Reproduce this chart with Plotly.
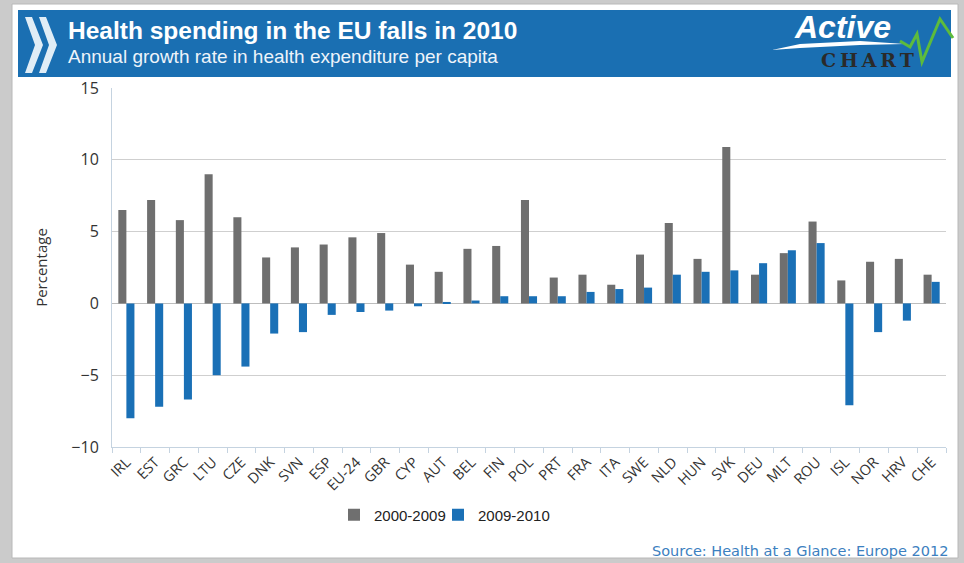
import plotly.graph_objects as go

categories = ["IRL", "EST", "GRC", "LTU", "CZE", "DNK", "SVN", "ESP", "EU-24", "GBR",
              "CYP", "AUT", "BEL", "FIN", "POL", "PRT", "FRA", "ITA", "SWE", "NLD",
              "HUN", "SVK", "DEU", "MLT", "ROU", "ISL", "NOR", "HRV", "CHE"]
growth_2000_2009 = [6.5, 7.2, 5.8, 9.0, 6.0, 3.2, 3.9, 4.1, 4.6, 4.9,
                    2.7, 2.2, 3.8, 4.0, 7.2, 1.8, 2.0, 1.3, 3.4, 5.6,
                    3.1, 10.9, 2.0, 3.5, 5.7, 1.6, 2.9, 3.1, 2.0]
growth_2009_2010 = [-8.0, -7.2, -6.7, -5.0, -4.4, -2.1, -2.0, -0.8, -0.6, -0.5,
                    -0.2, 0.1, 0.2, 0.5, 0.5, 0.5, 0.8, 1.0, 1.1, 2.0,
                    2.2, 2.3, 2.8, 3.7, 4.2, -7.1, -2.0, -1.2, 1.5]
series_names = ["2000-2009", "2009-2010"]
y_ticks = [-10, -5, 0, 5, 10, 15]

GRAY = "#6f6f6f"
BLUE = "#1a70b6"
HEADER = "#1a6fb2"

# plot area in pixels
L, R, T, B = 112, 946, 88, 447
W, H = 964, 563


def px(x):
    return (x - L) / (R - L)


def py(y):
    return (B - y) / (B - T)


fig = go.Figure()
fig.add_trace(go.Bar(x=categories, y=growth_2000_2009, name=series_names[0],
                     marker=dict(color=GRAY, line=dict(width=0)), legend="legend"))
fig.add_trace(go.Bar(x=categories, y=growth_2009_2010, name=series_names[1],
                     marker=dict(color=BLUE, line=dict(width=0)), legend="legend2"))

shapes = []
# white card
shapes.append(dict(type="rect", xref="paper", yref="paper", layer="below",
                   x0=px(12), x1=px(958), y0=py(558), y1=py(4),
                   fillcolor="white", line=dict(color="#b8b8b8", width=1)))
# header band
shapes.append(dict(type="rect", xref="paper", yref="paper", layer="below",
                   x0=px(18), x1=px(951), y0=py(77), y1=py(10),
                   fillcolor=HEADER, line=dict(width=0)))


def poly(pts):
    return "M" + " L".join(f"{px(a):.5f},{py(b):.5f}" for a, b in pts) + " Z"


# chevrons
for off in (0, 14):
    pts = [(25 + off, 17), (32 + off, 17), (43 + off, 45), (32 + off, 73), (25 + off, 73), (35 + off, 45)]
    shapes.append(dict(type="path", xref="paper", yref="paper", path=poly(pts),
                       fillcolor="rgba(235,243,250,0.95)", line=dict(width=0), layer="above"))
# white swoosh under "Active"
shapes.append(dict(type="path", xref="paper", yref="paper",
                   path=poly([(772, 50), (800, 44), (860, 41), (905, 44), (860, 45), (800, 48)]),
                   fillcolor="white", line=dict(width=0), layer="above"))
# green zigzag of logo
zig = [(900, 41), (910, 47), (917, 34), (922, 62), (940, 19), (953, 38)]
zpath = "M" + " L".join(f"{px(a):.5f},{py(b):.5f}" for a, b in zig)
shapes.append(dict(type="path", xref="paper", yref="paper", path=zpath,
                   line=dict(color="#5dbb3c", width=3), layer="above"))

annotations = [
    dict(text="<b>Health spending in the EU falls in 2010</b>", x=px(66), y=py(30),
         xref="paper", yref="paper", xanchor="left", yanchor="middle", showarrow=False,
         font=dict(family="Liberation Sans", size=24.5, color="white")),
    dict(text="Annual growth rate in health expenditure per capita", x=px(66), y=py(57),
         xref="paper", yref="paper", xanchor="left", yanchor="middle", showarrow=False,
         font=dict(family="Liberation Sans", size=19, color="#eef4fa")),
    dict(text="<b><i>Active</i></b>", x=px(842), y=py(27),
         xref="paper", yref="paper", xanchor="center", yanchor="middle", showarrow=False,
         font=dict(family="Liberation Sans", size=32, color="white")),
    dict(text="<b>C\u2009H\u2009A\u2009R\u2009T</b>", x=px(867), y=py(60),
         xref="paper", yref="paper", xanchor="center", yanchor="middle", showarrow=False,
         font=dict(family="DejaVu Serif", size=19, color="#2a2a2a")),
    dict(text="Source: Health at a Glance: Europe 2012", x=px(950), y=py(551),
         xref="paper", yref="paper", xanchor="right", yanchor="middle", showarrow=False,
         font=dict(family="DejaVu Sans", size=14.5, color="#3c80c0")),
]

legend_common = dict(orientation="h", yanchor="middle", xanchor="left",
                     font=dict(family="Liberation Sans", size=15, color="#222"),
                     bgcolor="rgba(0,0,0,0)", itemwidth=30)

fig.update_layout(
    width=W, height=H,
    margin=dict(l=L, r=W - R, t=T, b=H - B, pad=0),
    paper_bgcolor="#cbcbcb",
    plot_bgcolor="white",
    barmode="group",
    bargap=0.44,
    bargroupgap=0,
    showlegend=True,
    legend=dict(x=px(334), y=py(515), **legend_common),
    legend2=dict(x=px(438), y=py(515), **legend_common),
    shapes=shapes,
    annotations=annotations,
    font=dict(family="Open Sans", color="#333"),
)
fig.update_xaxes(
    type="category", tickangle=-45, tickfont=dict(family="Open Sans", size=14.5, color="#333"),
    showline=True, linecolor="#c5d3e0", linewidth=1,
    ticks="outside", tickson="boundaries", ticklen=5, tickcolor="#c5d3e0",
    showgrid=False, fixedrange=True,
)
fig.update_yaxes(
    range=[-10, 15], tickvals=y_ticks, tickfont=dict(family="Open Sans", size=16, color="#333"),
    showline=True, linecolor="#c5d3e0", linewidth=1,
    showgrid=True, gridcolor="#cfcfcf", gridwidth=1,
    zeroline=True, zerolinecolor="#bdbdbd", zerolinewidth=1,
    ticks="", ticklabelstandoff=9,
    title=dict(text="Percentage", font=dict(family="Open Sans", size=15, color="#333"), standoff=20),
)

fig.write_html("out.html")
